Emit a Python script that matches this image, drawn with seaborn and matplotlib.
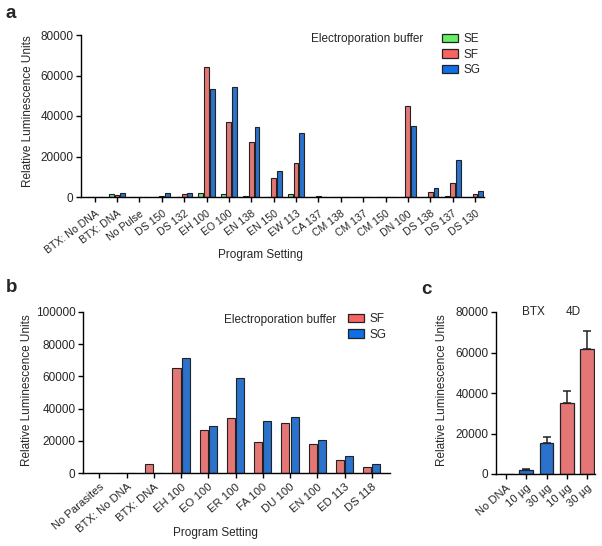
import matplotlib
matplotlib.use("Agg")
import matplotlib.pyplot as plt
import seaborn as sns
import pandas as pd
from matplotlib.patches import Patch

# ---------------- data ----------------
a_programs = ["BTX: No DNA", "BTX: DNA", "No Pulse", "DS 150", "DS 132", "EH 100",
              "EO 100", "EN 138", "EN 150", "EW 113", "CA 137", "CM 138", "CM 137",
              "CM 150", "DN 100", "DS 138", "DS 137", "DS 130"]
a_SE = [0, 1500, 100, 0, 200, 2000, 1500, 400, 0, 1500, 100, 100, 100, 100, 100, 0, 300, 0]
a_SF = [0, 800, 100, 500, 1500, 64000, 37000, 27000, 9500, 17000, 300, 150, 150, 150, 45000, 2700, 6800, 1500]
a_SG = [0, 2000, 100, 1800, 2000, 53500, 54500, 34800, 13000, 31500, 100, 100, 100, 100, 35000, 4200, 18500, 3000]

b_programs = ["No Parasites", "BTX: No DNA", "BTX: DNA", "EH 100", "EO 100", "ER 100",
              "FA 100", "DU 100", "EN 100", "ED 113", "DS 118"]
b_SF = [0, 0, 5500, 65500, 27000, 34000, 19500, 31000, 18000, 8000, 4000]
b_SG = [0, 0, 0, 71500, 29000, 59000, 32500, 35000, 20500, 10500, 5500]

c_conditions = ["No DNA", "BTX 10", "BTX 30", "4D 10", "4D 30"]
c_labels = ["No DNA", "10 µg", "30 µg", "10 µg", "30 µg"]
c_device = ["BTX", "BTX", "BTX", "4D", "4D"]
c_mean = [0, 2200, 15500, 35000, 61500]
c_err = [0, 400, 2700, 6000, 9000]

# ---------------- style ----------------
sns.set_theme(style="ticks")
plt.rcParams["font.family"] = ["Liberation Sans", "DejaVu Sans"]
plt.rcParams["font.size"] = 8.5
plt.rcParams["axes.linewidth"] = 1.0

GREEN = "#66EE66"
RED = "#F76464"
BLUE = "#0F6FE6"
EDGE = "#222222"
FS = 8.5

fig = plt.figure(figsize=(6.02, 5.46), dpi=100)
W, H = 602.0, 546.0


def fx(px):
    return px / W


def fy(py):
    return 1 - py / H


def add_axes(l, r, t, b):
    return fig.add_axes([l / W, 1 - b / H, (r - l) / W, (b - t) / H])


def style(ax, ymax, step):
    sns.despine(ax=ax)
    ax.set_ylim(0, ymax)
    ax.set_yticks(range(0, ymax + 1, step))
    ax.set_yticklabels([str(v) for v in range(0, ymax + 1, step)], fontsize=FS)
    ax.tick_params(axis="both", length=3.5, width=1.0, color="black", pad=2)
    for s in ax.spines.values():
        s.set_color("black")


def rot_labels(ax, labels, rot, fs, pad):
    ax.set_xticks(range(len(labels)))
    ax.set_xticklabels(labels, rotation=rot, ha="right", rotation_mode="anchor", fontsize=fs)
    ax.tick_params(axis="x", pad=pad)


def place_labels(ax, xl, xpos, ypos_y):
    if xl is not None:
        ax.set_xlabel(xl, fontsize=FS)
        ax.xaxis.set_label_coords(fx(xpos[0]), fy(xpos[1]), transform=fig.transFigure)
        ax.xaxis.label.set_va("center")
    else:
        ax.set_xlabel("")
    ax.set_ylabel("Relative Luminescence Units", fontsize=FS)
    ax.yaxis.set_label_coords(fx(ypos_y[0]), fy(ypos_y[1]), transform=fig.transFigure)
    ax.yaxis.label.set_va("center")


def legend(ax, colors, labels, x, y):
    handles = [Patch(facecolor=c, edgecolor=EDGE, linewidth=0.9) for c in colors]
    ax.legend(handles, labels, loc="upper left", bbox_to_anchor=(fx(x), fy(y)),
              bbox_transform=fig.transFigure, frameon=False, fontsize=FS,
              handlelength=1.35, handleheight=0.75, labelspacing=0.3,
              handletextpad=0.45, borderaxespad=0, borderpad=0)


# ---------------- panel a ----------------
ax_a = add_axes(81, 484, 35, 197)
df_a = pd.DataFrame({
    "program": a_programs * 3,
    "buffer": ["SE"] * len(a_programs) + ["SF"] * len(a_programs) + ["SG"] * len(a_programs),
    "value": a_SE + a_SF + a_SG,
})
sns.barplot(data=df_a, x="program", y="value", hue="buffer", order=a_programs,
            palette={"SE": GREEN, "SF": RED, "SG": BLUE}, width=0.76, gap=0.14,
            edgecolor=EDGE, linewidth=0.8, errorbar=None, ax=ax_a, legend=False)
style(ax_a, 80000, 20000)
ax_a.set_xlim(-0.61, 17.4)
rot_labels(ax_a, a_programs, 37, 7.6, 5)
place_labels(ax_a, "Program Setting", (260, 255), (28, 111))
legend(ax_a, (GREEN, RED, BLUE), ["SE", "SF", "SG"], 442, 33)
fig.text(fx(423), fy(39), "Electroporation buffer", ha="right", va="center", fontsize=FS)

# ---------------- panel b ----------------
ax_b = add_axes(83, 390, 312, 473)
df_b = pd.DataFrame({
    "program": b_programs * 2,
    "buffer": ["SF"] * len(b_programs) + ["SG"] * len(b_programs),
    "value": b_SF + b_SG,
})
sns.barplot(data=df_b, x="program", y="value", hue="buffer", order=b_programs,
            palette={"SF": RED, "SG": BLUE}, width=0.68, gap=0.12,
            edgecolor=EDGE, linewidth=0.8, errorbar=None, ax=ax_b, legend=False)
style(ax_b, 100000, 20000)
ax_b.set_xlim(-0.6, 10.67)
rot_labels(ax_b, b_programs, 41, 8.1, 3)
place_labels(ax_b, "Program Setting", (215, 533), (27, 390))
legend(ax_b, (RED, BLUE), ["SF", "SG"], 348, 313)
fig.text(fx(336), fy(320), "Electroporation buffer", ha="right", va="center", fontsize=FS)

# ---------------- panel c ----------------
ax_c = add_axes(496, 595, 312, 474)
df_c = pd.DataFrame({"condition": c_conditions, "device": c_device, "value": c_mean})
sns.barplot(data=df_c, x="condition", y="value", hue="device", order=c_conditions,
            palette={"BTX": BLUE, "4D": RED}, dodge=False, width=0.68,
            edgecolor=EDGE, linewidth=0.9, errorbar=None, ax=ax_c, legend=False)
ax_c.errorbar(range(1, len(c_conditions)), c_mean[1:], yerr=[[0] * 4, c_err[1:]],
              fmt="none", ecolor="#222222", elinewidth=1.1, capsize=3, capthick=1.1)
style(ax_c, 80000, 20000)
ax_c.set_xlim(-0.5, 4.4)
rot_labels(ax_c, c_labels, 41, 8.1, 3)
place_labels(ax_c, None, None, (442, 390))
ax_c.text(1.35, 80000, "BTX", ha="center", va="center", fontsize=FS)
ax_c.text(3.3, 80000, "4D", ha="center", va="center", fontsize=FS)

# ---------------- panel letters ----------------
fig.text(fx(6), fy(13), "a", fontsize=13.5, fontweight="bold", va="center", ha="left")
fig.text(fx(6), fy(288), "b", fontsize=13.5, fontweight="bold", va="center", ha="left")
fig.text(fx(421), fy(289), "c", fontsize=13.5, fontweight="bold", va="center", ha="left")

fig.savefig("out.png", dpi=100)
